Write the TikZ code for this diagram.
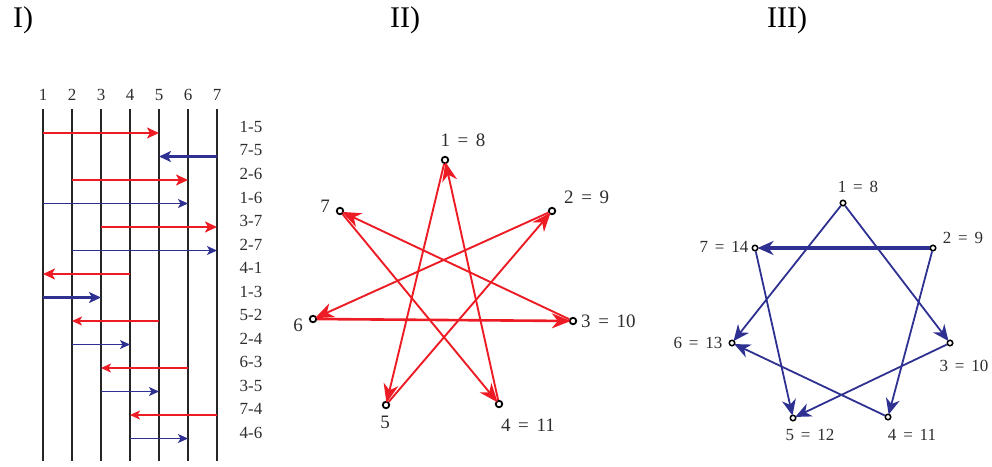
\documentclass[tikz,border=0pt]{standalone}
\usepackage{fontspec}
\setmainfont{Liberation Serif}
\usetikzlibrary{arrows.meta}
\definecolor{myred}{RGB}{237,28,36}
\definecolor{myblue}{RGB}{46,49,146}
\definecolor{txt}{RGB}{45,45,45}
\newcommand\eqs{\hspace{0.4em}=\hspace{0.4em}}
\begin{document}
\begin{tikzpicture}[x=1pt,y=-1pt,
  title/.style={font=\fontsize{30}{34}\selectfont, inner sep=0, anchor=base west},
  vline/.style={line width=1.4pt, black!85},
  numlab/.style={font=\fontsize{17}{19}\selectfont, text=txt, inner sep=0},
  rowlab/.style={font=\fontsize{17}{19}\selectfont, text=txt, inner sep=0},
  heavyI/.style={line width=2.3pt, -{Stealth[length=12pt,width=11pt,inset=3pt]}},
  lightI/.style={line width=1.4pt, -{Stealth[length=10pt,width=9pt,inset=2.5pt]}},
  dot/.style={circle, draw=black, line width=1.8pt, inner sep=0, minimum size=6.5pt, fill=white},
  dotIII/.style={circle, draw=black, line width=1.5pt, inner sep=0, minimum size=5.5pt, fill=white},
  labII/.style={font=\fontsize{19}{22}\selectfont, text=txt, inner sep=0},
  labIII/.style={font=\fontsize{17}{20}\selectfont, text=txt, inner sep=0},
  redE/.style={myred, line width=1.9pt, shorten >=-2pt, -{Stealth[length=19pt,width=15pt,inset=6pt]}},
  blueE/.style={myblue, line width=1.8pt, shorten >=-1pt, -{Stealth[length=16pt,width=14pt,inset=5pt]}}
]
\useasboundingbox (0,0) rectangle (992,466);

% titles
\node[title] (t1) at (13,27) {I)};
\node[title] (t2) at (390,27) {II)};
\node[title] (t3) at (767,27) {III)};

% ---------- Panel I ----------
\foreach \i/\x in {1/43,2/72,3/101,4/130,5/159,6/188,7/217} {
  \coordinate (vt\i) at (\x,109);
  \coordinate (vb\i) at (\x,461);
  \draw[vline] (vt\i) -- (vb\i);
  \node[numlab] (n\i) at (\x,95) {\i};
}
\foreach \k/\a/\b/\c/\w in {1/1/5/myred/heavyI, 2/7/5/myblue/heavyI, 3/2/6/myred/heavyI,
  4/1/6/myblue/lightI, 5/3/7/myred/heavyI, 6/2/7/myblue/lightI, 7/4/1/myred/heavyI,
  8/1/3/myblue/heavyI, 9/5/2/myred/lightI, 10/2/4/myblue/lightI, 11/6/3/myred/lightI,
  12/3/5/myblue/lightI, 13/7/4/myred/lightI, 14/4/6/myblue/lightI} {
  \pgfmathsetmacro\yy{133+23.5*(\k-1)}
  \coordinate (r\k) at (0,\yy);
  \node[rowlab] (l\k) at (251,{\yy-6}) {\a-\b};
  \draw[\w,\c] (vt\a |- r\k) -- (vt\b |- r\k);
}

% ---------- Panel II ----------
\node[dot] (p1) at (445,160) {};
\node[dot] (p2) at (552,211) {};
\node[dot] (p3) at (573,321) {};
\node[dot] (p4) at (499,404) {};
\node[dot] (p5) at (386,405) {};
\node[dot] (p6) at (313,319) {};
\node[dot] (p7) at (340,211) {};
\draw[redE] (p1) -- (p5);
\draw[redE] (p2) -- (p6);
\draw[redE] (p3) -- (p7);
\draw[redE] (p4) -- (p1);
\draw[redE] (p5) -- (p2);
\draw[redE, line width=2.6pt] (p6) -- (p3);
\draw[redE] (p7) -- (p4);
\node[labII] (q1) at (463,140) {1\eqs 8};
\node[labII, anchor=west] (q2) at (564,197) {2\eqs 9};
\node[labII, anchor=west] (q3) at (581,321) {3\eqs 10};
\node[labII] (q4) at (528,425) {4\eqs 11};
\node[labII] (q5) at (385,422) {5};
\node[labII] (q6) at (298,325) {6};
\node[labII] (q7) at (325,206) {7};

% ---------- Panel III ----------
\node[dotIII] (s1) at (843,203) {};
\node[dotIII] (s2) at (933,248) {};
\node[dotIII] (s3) at (950,343) {};
\node[dotIII] (s4) at (888,417) {};
\node[dotIII] (s5) at (793,418) {};
\node[dotIII] (s6) at (732,343) {};
\node[dotIII] (s7) at (755,248) {};
\draw[blueE] (s1) -- (s6);
\draw[blueE] (s1) -- (s3);
\draw[blueE, line width=3.5pt] (s2) -- (s7);
\draw[blueE] (s2) -- (s4);
\draw[blueE] (s7) -- (s5);
\draw[blueE] (s3) -- (s5);
\draw[blueE] (s4) -- (s6);
\node[labIII] (u1) at (858,187) {1\eqs 8};
\node[labIII] (u2) at (963,238) {2\eqs 9};
\node[labIII] (u3) at (964,366) {3\eqs 10};
\node[labIII] (u4) at (912,435) {4\eqs 11};
\node[labIII] (u5) at (810,435) {5\eqs 12};
\node[labIII] (u6) at (698,343) {6\eqs 13};
\node[labIII] (u7) at (724,247) {7\eqs 14};
\end{tikzpicture}
\end{document}
